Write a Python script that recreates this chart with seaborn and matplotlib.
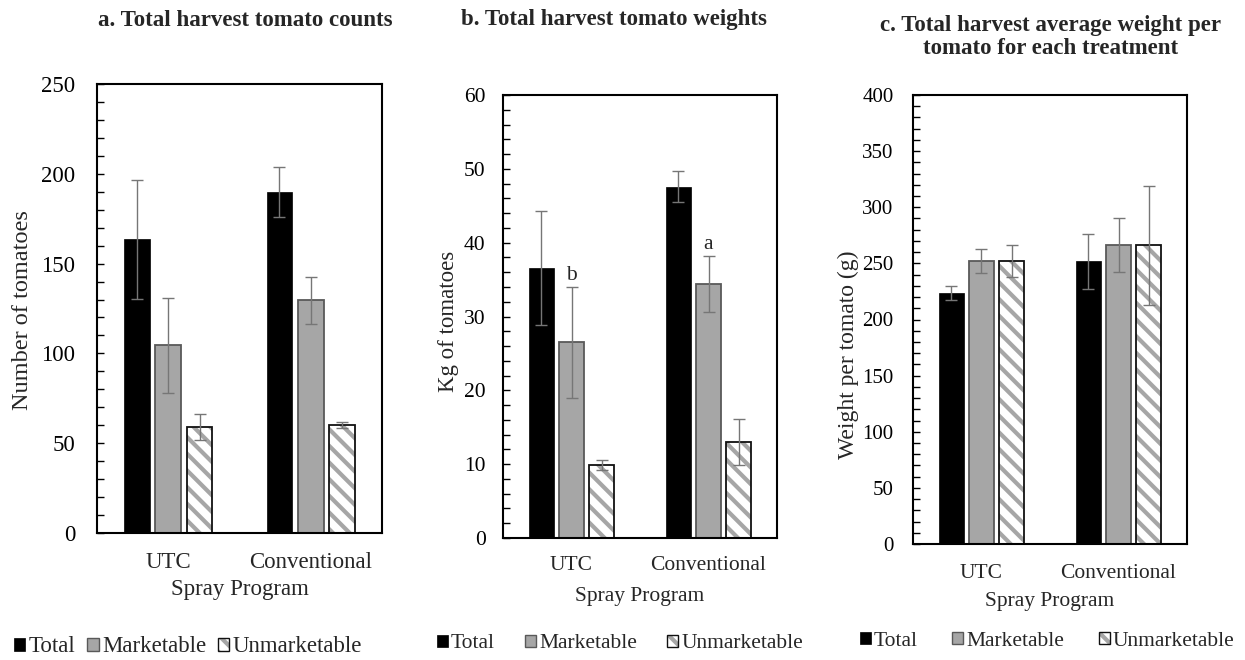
import numpy as np
import pandas as pd
import matplotlib
matplotlib.use("Agg")
import matplotlib.pyplot as plt
import seaborn as sns
from matplotlib.patches import Rectangle, Patch
from matplotlib.ticker import MultipleLocator
from matplotlib.legend_handler import HandlerTuple

# ---------------- data ----------------
programs = ["UTC", "Conventional"]
types = ["Total", "Marketable", "Unmarketable"]

# a. counts
count_total = [163.5, 190.0]
count_total_err = [33.0, 14.0]
count_market = [104.5, 129.5]
count_market_err = [26.5, 13.0]
count_unmarket = [59.0, 60.0]
count_unmarket_err = [7.0, 1.7]

# b. weights (kg)
kg_total = [36.6, 47.6]
kg_total_err = [7.7, 2.1]
kg_market = [26.5, 34.4]
kg_market_err = [7.5, 3.8]
kg_unmarket = [9.9, 13.0]
kg_unmarket_err = [0.65, 3.1]
kg_letters = ["b", "a"]

# c. average weight per tomato (g)
avg_total = [223.5, 252.0]
avg_total_err = [6.5, 24.5]
avg_market = [252.0, 266.0]
avg_market_err = [10.5, 24.0]
avg_unmarket = [252.0, 266.0]
avg_unmarket_err = [14.0, 53.0]

titles = ["a. Total harvest tomato counts",
          "b. Total harvest tomato weights",
          "c. Total harvest average weight per\ntomato for each treatment"]
ylabels = ["Number of tomatoes", "Kg of tomatoes", "Weight per tomato (g)"]
xlabel = "Spray Program"

# ---------------- style ----------------
sns.set_theme(style="white")
plt.rcParams["font.family"] = ["Liberation Serif", "DejaVu Serif"]
plt.rcParams["hatch.linewidth"] = 3.0

BLACK = "#000000"
GRAY = "#a6a6a6"
GRAY_EDGE = "#595959"
ERR = "#767676"

W, H = 1245, 660
fig = plt.figure(figsize=(W / 100, H / 100), dpi=100)


def frac_axes(l, t, r, b):
    return fig.add_axes([l / W, 1 - b / H, (r - l) / W, (b - t) / H])


def make_df(tot, mar, unm):
    rows = []
    for i, p in enumerate(programs):
        rows.append((p, "Total", tot[i]))
        rows.append((p, "Marketable", mar[i]))
        rows.append((p, "Unmarketable", unm[i]))
    return pd.DataFrame(rows, columns=["program", "type", "value"])


panels = [
    dict(box=(97, 84, 382, 533), vals=(count_total, count_market, count_unmarket),
         errs=(count_total_err, count_market_err, count_unmarket_err),
         ylim=250, major=50, minor=10, tfs=16.5, xfs=16.5, yfs=17.5, ypad=15.5,
         xpad=14, ylab=(-0.263, 0.497), xlab_y=-0.125),
    dict(box=(503, 95, 777, 538), vals=(kg_total, kg_market, kg_unmarket),
         errs=(kg_total_err, kg_market_err, kg_unmarket_err),
         ylim=60, major=10, minor=2, tfs=15.5, xfs=15.5, yfs=16.5, ypad=12.5,
         xpad=13, ylab=(-0.20, 0.488), xlab_y=-0.133),
    dict(box=(913, 95, 1187, 544), vals=(avg_total, avg_market, avg_unmarket),
         errs=(avg_total_err, avg_market_err, avg_unmarket_err),
         ylim=400, major=50, minor=10, tfs=15, xfs=15.5, yfs=17, ypad=14,
         xpad=14.5, ylab=(-0.237, 0.421), xlab_y=-0.127),
]

axes = []
for k, pan in enumerate(panels):
    ax = frac_axes(*pan["box"])
    axes.append(ax)
    df = make_df(*pan["vals"])
    sns.barplot(data=df, x="program", y="value", hue="type", order=programs,
                hue_order=types, palette=[BLACK, GRAY, "white"], width=0.66,
                gap=0.18, errorbar=None, legend=False, ax=ax)
    bar_containers = list(ax.containers)
    for hi, cont in enumerate(bar_containers):
        errs = pan["errs"][hi]
        vals = pan["vals"][hi]
        xs = []
        for j, p in enumerate(cont.patches):
            xs.append(p.get_x() + p.get_width() / 2)
            if hi == 0:
                p.set_facecolor(BLACK)
                p.set_edgecolor(BLACK)
                p.set_linewidth(0.5)
            elif hi == 1:
                p.set_facecolor(GRAY)
                p.set_edgecolor(GRAY_EDGE)
                p.set_linewidth(1.3)
            else:
                p.set_facecolor("white")
                p.set_edgecolor(GRAY)
                p.set_hatch("\\\\")
                p.set_linewidth(0)
                ax.add_patch(Rectangle((p.get_x(), p.get_y()), p.get_width(),
                                       p.get_height(), facecolor="none",
                                       edgecolor="#111111", linewidth=1.3,
                                       zorder=p.get_zorder() + 0.1))
        ax.errorbar(xs, vals, yerr=errs, fmt="none", ecolor=ERR, elinewidth=1.0,
                    capsize=4, capthick=1.0, zorder=5)
        if k == 1 and hi == 1:
            for j in range(len(xs)):
                ax.text(xs[j], vals[j] + errs[j] + 0.2, kg_letters[j], ha="center",
                        va="bottom", fontsize=15.5)

    ax.set_xlim(-0.5, 1.5)
    ax.set_ylim(0, pan["ylim"])
    ax.yaxis.set_major_locator(MultipleLocator(pan["major"]))
    ax.yaxis.set_minor_locator(MultipleLocator(pan["minor"]))
    ax.tick_params(axis="y", which="both", direction="in", length=5, width=1,
                   left=True, right=False, labelsize=pan["tfs"], pad=pan["ypad"],
                   colors="black")
    ax.tick_params(axis="x", which="both", length=0, labelsize=pan["xfs"],
                   pad=pan["xpad"])
    for s in ax.spines.values():
        s.set_visible(True)
        s.set_color("black")
        s.set_linewidth(1.5)
    ax.set_ylabel(ylabels[k], fontsize=pan["yfs"])
    ax.yaxis.label.set_va("center")
    ax.yaxis.set_label_coords(*pan["ylab"])
    ax.set_xlabel(xlabel, fontsize=pan["xfs"])
    ax.xaxis.label.set_va("center")
    ax.xaxis.set_label_coords(0.5, pan["xlab_y"])

# titles
fig.text(245 / W, 1 - 20 / H, titles[0], ha="center", va="center",
         fontsize=16.5, fontweight="bold")
fig.text(614 / W, 1 - 20 / H, titles[1], ha="center", va="center",
         fontsize=16.5, fontweight="bold")
fig.text(1051 / W, 1 - 37 / H, titles[2], ha="center", va="center",
         fontsize=16.5, fontweight="bold", linespacing=1.15)

# legends
h_tot = Patch(facecolor=BLACK, edgecolor=BLACK, linewidth=0.5)
h_mar = Patch(facecolor=GRAY, edgecolor=GRAY_EDGE, linewidth=1.0)
h_unm = (Patch(facecolor="white", edgecolor=GRAY, hatch="\\\\", linewidth=0),
         Patch(facecolor="none", edgecolor="#111111", linewidth=1.0))
handles = [h_tot, h_mar, h_unm]

leg_specs = [((14, 647), 16.5, 0.5), ((437, 644), 15.5, 1.4), ((860, 641), 15.5, 1.6)]
for (lx, ly), fs, cs in leg_specs:
    fig.legend(handles, types, loc="center left", bbox_to_anchor=(lx / W, 1 - ly / H),
               ncol=3, frameon=False, fontsize=fs, handlelength=0.5,
               handleheight=0.5, handletextpad=0.15, columnspacing=cs,
               borderaxespad=0, borderpad=0,
               handler_map={tuple: HandlerTuple(ndivide=1, pad=0)})

fig.savefig("out.png", dpi=100)
